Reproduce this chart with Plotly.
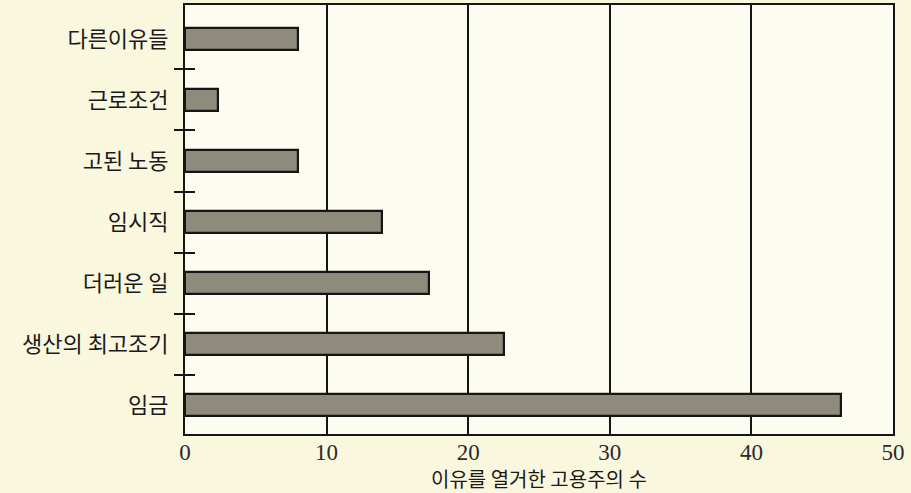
import plotly.graph_objects as go

# Data (bottom to top)
categories = ["임금", "생산의 최고조기", "더러운 일", "임시직", "고된 노동", "근로조건", "다른이유들"]
counts = [46.3, 22.5, 17.2, 13.9, 8, 2.3, 8]
x_ticks = [0, 10, 20, 30, 40, 50]
x_title = "이유를 열거한 고용주의 수"

n = len(categories)
pos = list(range(n))
bounds = [i + 0.5 for i in range(n - 1)]
yr = [-0.475, n - 1 + 0.557]

fig = go.Figure()
fig.add_trace(go.Bar(
    x=counts, y=pos, orientation="h", width=0.36,
    marker=dict(color="#8e8a7c", line=dict(color="#151515", width=2.2)),
    hoverinfo="x+y",
))
# invisible helper traces so the boundary-tick axes are drawn
for ax in ("y2", "y3"):
    fig.add_trace(go.Scatter(x=counts, y=pos, yaxis=ax, mode="none",
                             hoverinfo="skip", showlegend=False))

kr = "Noto Sans CJK KR"
fig.update_layout(
    width=911, height=493,
    margin=dict(l=185, r=18, t=5, b=59),
    paper_bgcolor="#faf7df",
    plot_bgcolor="#fdfcf0",
    showlegend=False,
    bargap=0,
    xaxis=dict(
        range=[0, 50], tickvals=x_ticks, ticks="",
        showgrid=True, gridcolor="#151515", gridwidth=1.6,
        showline=True, linecolor="#151515", linewidth=2, mirror=True,
        zeroline=False, automargin=False, ticklabelstandoff=-4,
        tickfont=dict(family="Liberation Serif", size=23, color="#2a2a2a"),
    ),
    yaxis=dict(
        range=yr, tickvals=pos, ticktext=categories, ticks="",
        showgrid=False, zeroline=False, automargin=False,
        showline=True, linecolor="#151515", linewidth=2, mirror=True,
        tickfont=dict(family=kr, size=22, color="#1a1a1a"),
        ticklabelstandoff=10,
    ),
    yaxis2=dict(
        overlaying="y", range=yr, tickvals=bounds, ticks="outside",
        ticklen=10, tickwidth=2, tickcolor="#151515", automargin=False,
        showticklabels=False, showgrid=False, zeroline=False, showline=False,
    ),
    yaxis3=dict(
        overlaying="y", range=yr, tickvals=bounds, ticks="inside",
        ticklen=10, tickwidth=2, tickcolor="#151515", automargin=False,
        showticklabels=False, showgrid=False, zeroline=False, showline=False,
    ),
    annotations=[dict(
        text=x_title, xref="paper", yref="paper", x=0.5, y=-0.103,
        xanchor="center", yanchor="middle", showarrow=False, borderpad=0,
        font=dict(family=kr, size=20, color="#1a1a1a"),
    )],
)

fig.write_html("out.html", config={"displayModeBar": False},
               post_script="document.body.style.margin='0';document.body.style.overflow='hidden';")
